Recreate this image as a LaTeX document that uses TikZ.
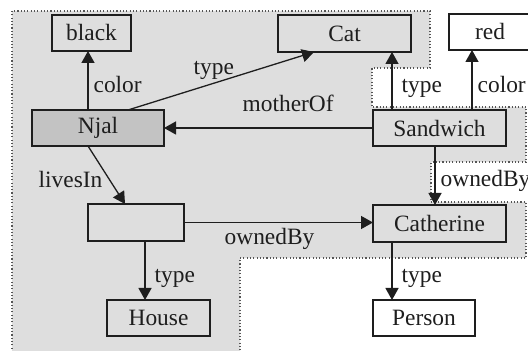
\documentclass[tikz,border=0pt]{standalone}
\usepackage{fontspec}
\setmainfont{Liberation Serif}
\usetikzlibrary{arrows.meta}
\definecolor{regionc}{HTML}{DEDEDE}
\definecolor{njalc}{HTML}{C3C3C3}
\definecolor{inkc}{HTML}{1E1E1E}
\definecolor{dotc}{HTML}{555555}
\tikzset{
  box/.style={draw=inkc, line width=0.65pt, inner sep=0pt, outer sep=0pt,
    text=inkc, font=\fontsize{11.7}{14}\selectfont},
  arr/.style={draw=inkc, line width=0.65pt, -{Triangle[length=6pt,width=6.5pt]}},
  lbl/.style={inner sep=0pt, anchor=base west, text=inkc, font=\fontsize{11.7}{14}\selectfont},
  regionborder/.style={draw=dotc, line width=0.55pt, dash pattern=on 0.55pt off 1.1pt}
}
\begin{document}
\begin{tikzpicture}[x=0.5pt,y=-0.5pt]
\useasboundingbox (0,0) rectangle (528,351);
% shaded region
\fill[regionc] (12,11) -- (430,11) -- (430,68) -- (372,68) -- (372,107) -- (526,107)
  -- (526,162) -- (431,162) -- (431,202) -- (526,202) -- (526,258) -- (240,258)
  -- (240,352) -- (12,352) -- cycle;
\draw[regionborder] (12,352) -- (12,11) -- (430,11) -- (430,68) -- (372,68) -- (372,107)
  -- (526,107) -- (526,162) -- (431,162) -- (431,202) -- (526,202) -- (526,258)
  -- (240,258) -- (240,352);
% nodes
\node[box, minimum width=39.5pt, minimum height=18pt] (black) at (91.5,33) {black};
\node[box, fill=njalc, minimum width=66pt, minimum height=18pt] (njal) at (98,128) {Njal};
\node[box, minimum width=66.5pt, minimum height=18.5pt] (cat) at (344.5,33.5) {Cat};
\node[box, minimum width=41pt, minimum height=18pt] (red) at (490,32) {red};
\node[box, minimum width=66.5pt, minimum height=18pt] (sandwich) at (439.5,128) {Sandwich};
\node[box, minimum width=48pt, minimum height=18.5pt] (blank) at (136,222.5) {};
\node[box, minimum width=51.5pt, minimum height=18pt] (house) at (158.5,318) {House};
\node[box, minimum width=66.5pt, minimum height=18.5pt] (catherine) at (439.5,223.5) {Catherine};
\node[box, minimum width=51pt, minimum height=18pt] (person) at (424,318) {Person};
% connectors
\draw[arr] ([xshift=-5pt]njal.north) -- ([xshift=-5pt]njal.north |- black.south)
  node[lbl] at (93,93) {color};
\draw[arr] ([xshift=15pt]njal.north) -- ([xshift=-15.25pt]cat.south)
  node[lbl] at (193,75) {type};
\draw[arr] (sandwich.west) -- (njal.east)
  node[lbl] at (242,112) {motherOf};
\draw[arr] ([xshift=-23.75pt]sandwich.north) -- ([xshift=-23.75pt]sandwich.north |- cat.south)
  node[lbl] at (401,93) {type};
\draw[arr] ([xshift=16.25pt]sandwich.north) -- ([xshift=16.25pt]sandwich.north |- red.south)
  node[lbl] at (477,93) {color};
\draw[arr] ([xshift=-2.25pt]sandwich.south) -- ([xshift=-2.25pt]sandwich.south |- catherine.north)
  node[lbl] at (440,187) {ownedBy};
\draw[arr] ([xshift=-5pt]njal.south) -- ([xshift=-5.5pt]blank.north)
  node[lbl] at (38,188) {livesIn};
\draw[arr] (blank.east) -- (blank.east -| catherine.west)
  node[lbl] at (224,245) {ownedBy};
\draw[arr] ([xshift=4.5pt]blank.south) -- ([xshift=4.5pt]blank.south |- house.north)
  node[lbl] at (154,283) {type};
\draw[arr] ([xshift=-23.75pt]catherine.south) -- ([xshift=-23.75pt]catherine.south |- person.north)
  node[lbl] at (401,283) {type};
\end{tikzpicture}
\end{document}
